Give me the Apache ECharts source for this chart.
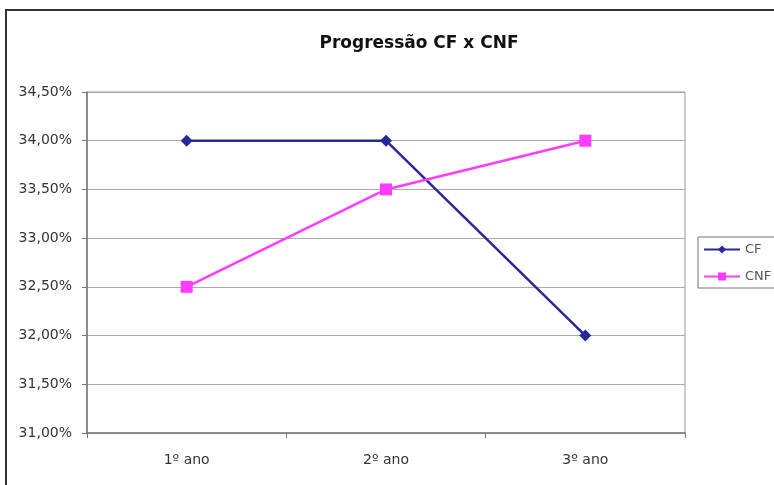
<!DOCTYPE html>
<html>
<head>
<meta charset="utf-8">
<script src="https://cdn.jsdelivr.net/npm/echarts@6/dist/echarts.min.js"></script>
<style>
  html, body { margin: 0; padding: 0; background: #fff; }
  #chart { width: 774px; height: 485px; }
</style>
</head>
<body>
<div id="chart"></div>
<script>
// dados
const anos = ['1º ano', '2º ano', '3º ano'];
const cf = [34.0, 34.0, 32.0];
const cnf = [32.5, 33.5, 34.0];

const chart = echarts.init(document.getElementById('chart'));

// formato pt-BR: 34,50%
const pct = v => v.toFixed(2).replace('.', ',') + '%';

const option = {
    animation: false,
    textStyle: { fontFamily: 'DejaVu Sans, sans-serif' },
    title: {
        text: 'Progressão CF x CNF',
        left: 414,
        top: 30,
        textAlign: 'center',
        textStyle: { fontSize: 17, fontWeight: 'bold', color: '#111' }
    },
    grid: { left: 87, right: 89, top: 92, bottom: 52, show: true, borderColor: '#999', borderWidth: 1 },
    legend: {
        orient: 'vertical',
        left: 698,
        top: 237,
        padding: [6, 10, 5, 5],
        itemGap: 14,
        itemWidth: 36,
        itemHeight: 10,
        borderColor: '#777',
        borderWidth: 1,
        textStyle: { fontSize: 13, color: '#555' },
        data: ['CF', 'CNF']
    },
    xAxis: {
        type: 'category',
        data: anos,
        boundaryGap: true,
        axisLine: { lineStyle: { color: '#777', width: 1.5 } },
        axisTick: { show: true, length: 5, lineStyle: { color: '#777' } },
        axisLabel: { fontSize: 14, color: '#333', margin: 20 }
    },
    yAxis: {
        type: 'value',
        min: 31,
        max: 34.5,
        interval: 0.5,
        axisLine: { show: true, lineStyle: { color: '#777', width: 1.5 } },
        axisTick: { show: true, length: 5, lineStyle: { color: '#777' } },
        axisLabel: { fontSize: 14, color: '#333', margin: 15, formatter: pct },
        splitLine: { lineStyle: { color: '#aaa', width: 1.2 } }
    },
    series: [
        {
            name: 'CF',
            type: 'line',
            data: cf,
            symbol: 'diamond',
            symbolSize: 12,
            lineStyle: { color: '#28289a', width: 2.5 },
            itemStyle: { color: '#28289a' }
        },
        {
            name: 'CNF',
            type: 'line',
            data: cnf,
            symbol: 'rect',
            symbolSize: 12,
            lineStyle: { color: '#ff3cff', width: 2.5 },
            itemStyle: { color: '#ff3cff' }
        }
    ],
    graphic: [
        {
            type: 'rect',
            shape: { x: 6, y: 10, width: 820, height: 520 },
            style: { fill: 'none', stroke: '#333', lineWidth: 2 },
            silent: true
        }
    ]
};

chart.setOption(option);
</script>
</body>
</html>
